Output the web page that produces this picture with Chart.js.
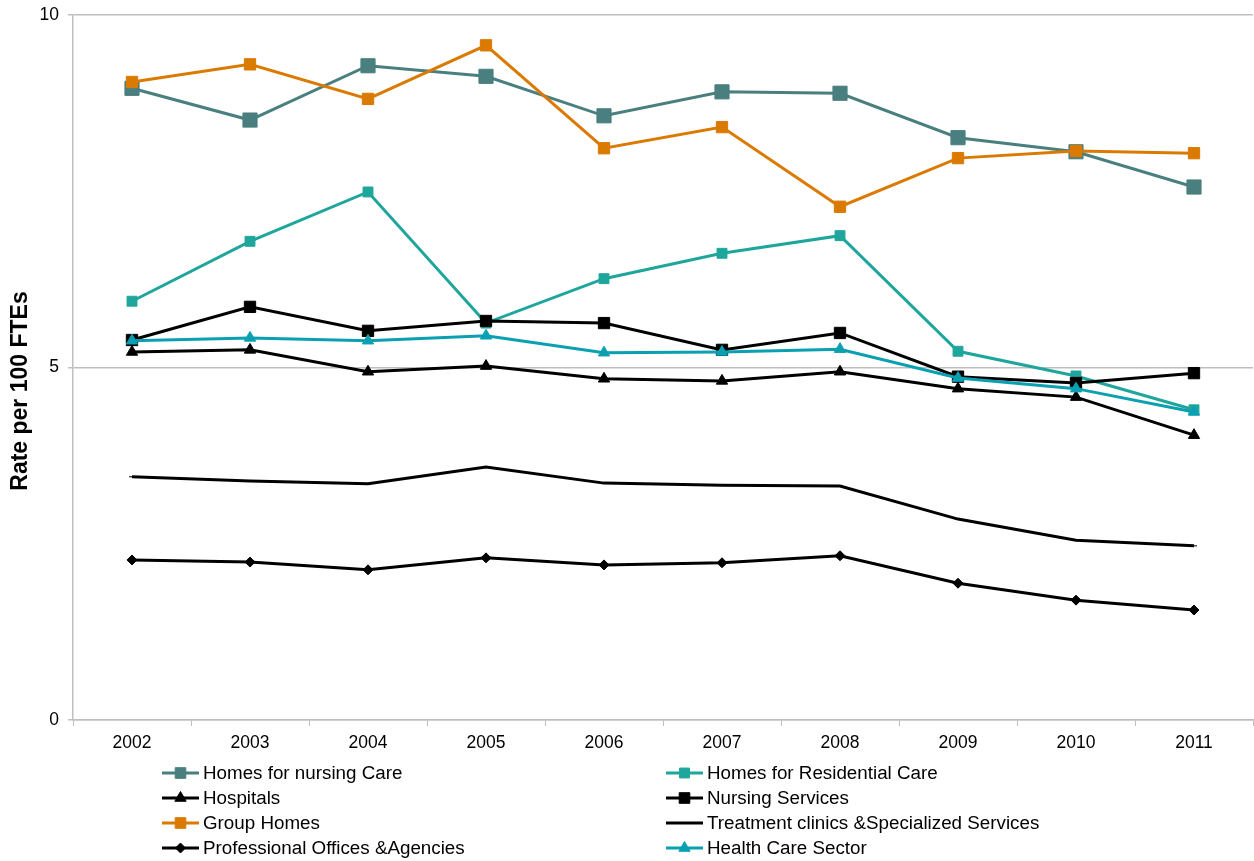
<!DOCTYPE html>
<html lang="en">
<head>
<meta charset="UTF-8">
<title>Rate per 100 FTEs</title>
<script src="https://cdn.jsdelivr.net/npm/chart.js"></script>
<style>
  html, body { margin: 0; padding: 0; background: #fff; overflow: hidden; }
  #grafico { display: block; }
</style>
</head>
<body>
<canvas id="grafico" width="1254" height="861"></canvas>

<script>
// dados
const anos = ['2002', '2003', '2004', '2005', '2006', '2007', '2008', '2009', '2010', '2011'];
const yTicks = [0, 5, 10];

const homesNursing     = [8.96, 8.51, 9.28, 9.13, 8.57, 8.91, 8.89, 8.26, 8.06, 7.56];
const homesResidential = [5.94, 6.79, 7.49, 5.63, 6.26, 6.62, 6.87, 5.23, 4.88, 4.40];
const hospitals        = [5.22, 5.25, 4.94, 5.02, 4.84, 4.81, 4.94, 4.70, 4.58, 4.04];
const nursingServices  = [5.39, 5.86, 5.52, 5.66, 5.63, 5.25, 5.49, 4.87, 4.78, 4.92];
const groupHomes       = [9.05, 9.30, 8.81, 9.57, 8.11, 8.41, 7.28, 7.97, 8.07, 8.04];
const treatmentClinics = [3.45, 3.39, 3.35, 3.59, 3.36, 3.33, 3.32, 2.85, 2.55, 2.47];
const profOffices      = [2.27, 2.24, 2.13, 2.30, 2.20, 2.23, 2.33, 1.94, 1.70, 1.56];
const healthCare       = [5.38, 5.42, 5.38, 5.45, 5.21, 5.22, 5.26, 4.85, 4.70, 4.37];

const fonte = 'Arial, "Liberation Sans", sans-serif';

function serie(label, data, cor, estilo, raio) {
    return {
        label: label,
        data: data,
        borderColor: cor,
        backgroundColor: cor,
        borderWidth: 3,
        pointStyle: estilo,
        pointRadius: raio,
        pointHoverRadius: raio,
        pointBorderWidth: 1,
        tension: 0
    };
}

const datasets = [
    serie('Homes for nursing Care', homesNursing, '#4A7F7F', 'rect', 10),
    serie('Homes for Residential Care', homesResidential, '#1FA69C', 'rect', 7),
    serie('Hospitals', hospitals, '#000000', 'triangle', 6.5),
    serie('Nursing Services', nursingServices, '#000000', 'rect', 8),
    serie('Group Homes', groupHomes, '#DB7A00', 'rect', 8),
    serie('Treatment clinics &Specialized Services', treatmentClinics, '#000000', 'line', 3),
    serie('Professional Offices &Agencies', profOffices, '#000000', 'rectRot', 5),
    serie('Health Care Sector', healthCare, '#0AA0B2', 'triangle', 6.5)
];
// as últimas séries ficam por cima
datasets.forEach((d, i) => { d.order = datasets.length - i; });

// legenda em duas colunas + título do eixo y
const legendaPlugin = {
    id: 'legendaColunas',
    afterDraw(chart) {
        const ctx = chart.ctx;
        const colX = [162, 666];
        ctx.save();
        chart.data.datasets.forEach((ds, i) => {
            const col = i % 2;
            const row = Math.floor(i / 2);
            const x0 = colX[col];
            const y = 773 + row * 25;
            ctx.strokeStyle = ds.borderColor;
            ctx.fillStyle = ds.backgroundColor;
            ctx.lineWidth = 3;
            ctx.beginPath();
            ctx.moveTo(x0, y);
            ctx.lineTo(x0 + 37, y);
            ctx.stroke();
            ctx.lineWidth = 1;
            Chart.helpers.drawPoint(ctx, {
                pointStyle: ds.pointStyle,
                radius: Math.min(ds.pointRadius, 7.5),
                rotation: 0,
                borderWidth: 1
            }, x0 + 18.5, y);
            ctx.fillStyle = '#000';
            ctx.font = '18.8px ' + fonte;
            ctx.textAlign = 'left';
            ctx.textBaseline = 'middle';
            ctx.fillText(ds.label, x0 + 41, y + 1);
        });

        ctx.translate(21, 391);
        ctx.rotate(-Math.PI / 2);
        ctx.font = 'bold 23px ' + fonte;
        ctx.textAlign = 'center';
        ctx.textBaseline = 'middle';
        ctx.fillStyle = '#000';
        ctx.fillText('Rate per 100 FTEs', 0, 0);
        ctx.restore();
    }
};

const config = {
    type: 'line',
    data: { labels: anos, datasets: datasets },
    options: {
        responsive: false,
        animation: false,
        layout: {
            autoPadding: false,
            padding: { top: 15, right: 1, left: 0, bottom: 101 }
        },
        plugins: {
            legend: { display: false },
            tooltip: { enabled: false }
        },
        scales: {
            x: {
                offset: true,
                afterFit(scale) {
                    scale.height = 40;
                    scale.paddingLeft = 0;
                    scale.paddingRight = 0;
                },
                grid: {
                    offset: true,
                    drawOnChartArea: false,
                    drawTicks: true,
                    tickLength: 6,
                    color: '#BFBFBF'
                },
                border: { color: '#BFBFBF', width: 1.5 },
                ticks: {
                    color: '#000',
                    font: { size: 17.5, family: fonte },
                    padding: 7,
                    maxRotation: 0
                }
            },
            y: {
                min: 0,
                max: 10,
                afterFit(scale) {
                    scale.width = 73;
                    scale.paddingTop = 0;
                    scale.paddingBottom = 0;
                },
                afterBuildTicks(scale) { scale.ticks = yTicks.map(v => ({ value: v })); },
                grid: {
                    color: '#BFBFBF',
                    lineWidth: 1.5,
                    tickLength: 5
                },
                border: { color: '#BFBFBF', width: 1.5 },
                ticks: {
                    color: '#000',
                    font: { size: 17.5, family: fonte },
                    padding: 9
                }
            }
        }
    },
    plugins: [legendaPlugin]
};

new Chart(document.getElementById('grafico'), config);
</script>
</body>
</html>
